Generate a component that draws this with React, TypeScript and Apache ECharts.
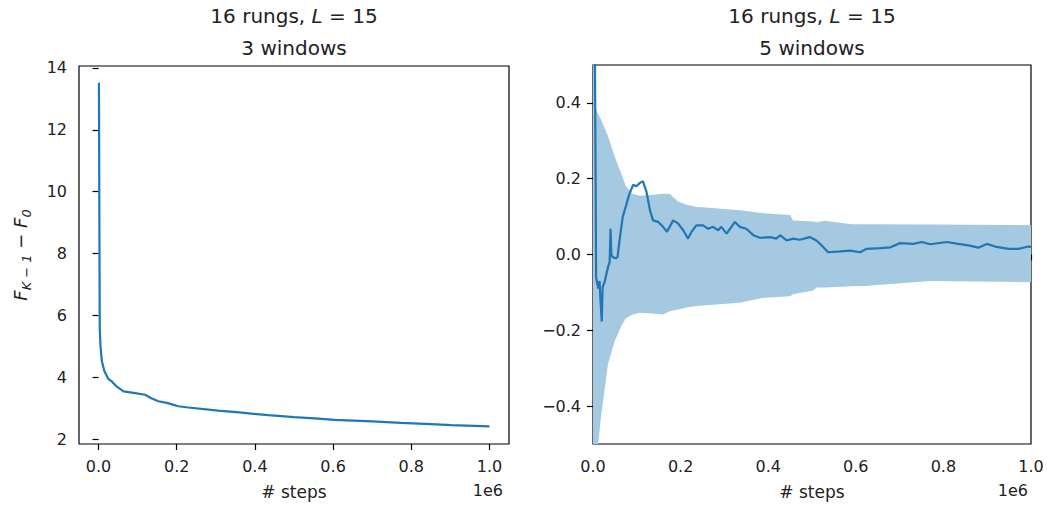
import React, { useEffect, useRef } from "react";
import * as echarts from "echarts";

// ---- data ----
const leftSteps = [1000, 3000, 5000, 8500, 15000, 25000, 34000, 45000, 64000, 90000, 119000, 135000, 153000, 175000, 204000, 230000, 306000, 360000, 434000, 500000, 562000, 604000, 700000, 774000, 850000, 902000, 1000000];
const leftValues = [13.52, 5.6, 5.0, 4.52, 4.2, 3.95, 3.87, 3.72, 3.55, 3.5, 3.44, 3.33, 3.23, 3.18, 3.07, 3.03, 2.93, 2.87, 2.78, 2.72, 2.67, 2.63, 2.58, 2.53, 2.49, 2.46, 2.42];

const rightSteps = [2000, 6000, 7000, 12000, 15000, 17000, 20000, 22000, 27000, 34000, 38000, 40000, 42000, 45000, 52000, 56000, 62000, 68000, 76000, 83000, 92000, 99000, 107000, 114000, 122000, 130000, 137000, 149000, 160000, 169000, 183000, 194000, 206000, 217000, 225000, 236000, 251000, 263000, 274000, 286000, 293000, 305000, 316000, 324000, 335000, 350000, 366000, 381000, 404000, 419000, 427000, 442000, 457000, 472000, 495000, 510000, 522000, 537000, 564000, 587000, 610000, 625000, 656000, 679000, 701000, 732000, 750000, 770000, 808000, 834000, 857000, 880000, 899000, 918000, 949000, 972000, 994000, 1000000];
const rightValues = [1.0, 0.2, -0.06, -0.09, -0.07, -0.12, -0.177, -0.087, -0.07, -0.034, -0.02, 0.068, 0.0, -0.007, -0.01, -0.007, 0.05, 0.1, 0.131, 0.16, 0.184, 0.18, 0.189, 0.193, 0.166, 0.117, 0.09, 0.086, 0.073, 0.06, 0.09, 0.082, 0.064, 0.042, 0.06, 0.077, 0.077, 0.068, 0.073, 0.064, 0.073, 0.055, 0.073, 0.086, 0.073, 0.068, 0.051, 0.044, 0.046, 0.042, 0.051, 0.037, 0.042, 0.039, 0.046, 0.037, 0.024, 0.006, 0.008, 0.01, 0.006, 0.015, 0.017, 0.019, 0.03, 0.028, 0.033, 0.027, 0.033, 0.028, 0.024, 0.018, 0.028, 0.021, 0.015, 0.015, 0.021, 0.02];

const bandSteps = [0, 5000, 7000, 12000, 18000, 34000, 49000, 64000, 75000, 90000, 107000, 133000, 160000, 175000, 194000, 214000, 236000, 335000, 389000, 450000, 457000, 503000, 510000, 530000, 590000, 620000, 770000, 1000000];
const bandUpper = [1.5, 0.5, 0.384, 0.37, 0.357, 0.313, 0.26, 0.215, 0.18, 0.16, 0.155, 0.157, 0.16, 0.16, 0.14, 0.131, 0.126, 0.117, 0.109, 0.104, 0.09, 0.087, 0.085, 0.089, 0.08, 0.08, 0.079, 0.078];
const bandLower = [-1.5, -0.6, -0.56, -0.5, -0.43, -0.29, -0.23, -0.19, -0.168, -0.158, -0.154, -0.156, -0.158, -0.15, -0.145, -0.14, -0.136, -0.127, -0.114, -0.11, -0.105, -0.095, -0.087, -0.087, -0.084, -0.083, -0.07, -0.073];

const xTicks = [0, 200000, 400000, 600000, 800000, 1000000];
const leftYTicks = [2, 4, 6, 8, 10, 12, 14];
const rightYTicks = [-0.4, -0.2, 0, 0.2, 0.4];

const FONT = "DejaVu Sans";
const C0 = "#1f77b4";
const BAND = "#a5c9e1";
const TXT = "#222";

const fmtMinus = (s: string) => s.replace("-", "\u2212");

export default function App() {
  const ref = useRef<HTMLDivElement>(null);
  useEffect(() => {
    if (!ref.current) return;
    const chart = echarts.init(ref.current, null, { renderer: "svg" });

    const axisCommon = {
      axisLine: { show: false },
      axisTick: { show: true, length: 6, inside: false, lineStyle: { color: "#000", width: 1.2 } },
      splitLine: { show: false },
    };
    const labelCommon = { color: TXT, fontSize: 16, fontFamily: FONT };

    const titleStyle = {
      fontSize: 20,
      fontWeight: "normal",
      color: TXT,
      fontFamily: FONT,
      lineHeight: 32,
      rich: {
        i: { fontStyle: "italic", fontSize: 20, fontFamily: FONT, color: TXT, lineHeight: 32 },
      },
    };

    const option: any = {
      animation: false,
      backgroundColor: "#fff",
      title: [
        { text: "16 rungs, {i|L} = 15\n3 windows", left: 294, top: 0, padding: 0, textAlign: "center", textStyle: titleStyle },
        { text: "16 rungs, {i|L} = 15\n5 windows", left: 812, top: 0, padding: 0, textAlign: "center", textStyle: titleStyle },
      ],
      grid: [
        { left: 79, top: 66, width: 430, height: 378, show: true, borderColor: "#000", borderWidth: 1.2, backgroundColor: "transparent" },
        { left: 593, top: 65, width: 438, height: 379, show: true, borderColor: "#000", borderWidth: 1.2, backgroundColor: "transparent" },
      ],
      xAxis: [
        {
          type: "value", gridIndex: 0, min: -50000, max: 1050000,
          ...axisCommon,
          axisTick: { ...axisCommon.axisTick, customValues: xTicks },
          axisLabel: { ...labelCommon, margin: 14, customValues: xTicks, formatter: (v: number) => (v / 1e6).toFixed(1) },
          name: "# steps", nameLocation: "middle", nameGap: 39,
          nameTextStyle: { ...labelCommon, fontSize: 17 },
        },
        {
          type: "value", gridIndex: 1, min: 0, max: 1000000,
          ...axisCommon,
          axisTick: { ...axisCommon.axisTick, customValues: xTicks },
          axisLabel: { ...labelCommon, margin: 14, customValues: xTicks, formatter: (v: number) => (v / 1e6).toFixed(1) },
          name: "# steps", nameLocation: "middle", nameGap: 39,
          nameTextStyle: { ...labelCommon, fontSize: 17 },
        },
      ],
      yAxis: [
        {
          type: "value", gridIndex: 0, min: 1.85, max: 14.06,
          ...axisCommon,
          axisTick: { ...axisCommon.axisTick, customValues: leftYTicks },
          axisLabel: { ...labelCommon, margin: 12, customValues: leftYTicks, formatter: (v: number) => String(Math.round(v)) },
          name: "{f|F}{s|K \u2212 1}{n| \u2212 }{f|F}{s|0}",
          nameLocation: "middle",
          nameRotate: 90,
          nameGap: 46,
          nameTextStyle: {
            ...labelCommon,
            rich: {
              f: { fontStyle: "italic", fontSize: 18, fontFamily: FONT, color: TXT, lineHeight: 25, verticalAlign: "middle" },
              s: { fontStyle: "italic", fontSize: 13, fontFamily: FONT, color: TXT, lineHeight: 13, verticalAlign: "bottom" },
              n: { fontSize: 18, fontFamily: FONT, color: TXT, lineHeight: 25, verticalAlign: "middle" },
            },
          },
        },
        {
          type: "value", gridIndex: 1, min: -0.5, max: 0.5,
          ...axisCommon,
          axisTick: { ...axisCommon.axisTick, customValues: rightYTicks },
          axisLabel: { ...labelCommon, margin: 12, customValues: rightYTicks, formatter: (v: number) => fmtMinus(v.toFixed(1)) },
        },
      ],
      graphic: [
        { type: "text", right: 1047 - 503, top: 482, style: { text: "1e6", fontSize: 16, fontFamily: FONT, fill: TXT } },
        { type: "text", right: 1047 - 1028, top: 482, style: { text: "1e6", fontSize: 16, fontFamily: FONT, fill: TXT } },
      ],
      series: [
        {
          type: "line", xAxisIndex: 0, yAxisIndex: 0,
          data: leftSteps.map((s, i) => [s, leftValues[i]]),
          showSymbol: false, symbol: "none",
          lineStyle: { color: C0, width: 2.2 },
          z: 3,
        },
        {
          type: "custom", xAxisIndex: 1, yAxisIndex: 1,
          data: bandSteps.map((s, i) => [s, bandLower[i], bandUpper[i]]),
          encode: { x: 0, y: [1, 2] },
          renderItem: (params: any, api: any) => {
            if (params.dataIndex !== 0) return null;
            const pts: number[][] = [];
            for (let i = 0; i < bandSteps.length; i++) pts.push(api.coord([bandSteps[i], bandUpper[i]]));
            for (let i = bandSteps.length - 1; i >= 0; i--) pts.push(api.coord([bandSteps[i], bandLower[i]]));
            const cs = params.coordSys;
            return {
              type: "polygon",
              shape: { points: pts },
              style: { fill: BAND, stroke: "none" },
              clipPath: { type: "rect", shape: { x: cs.x, y: cs.y, width: cs.width, height: cs.height } },
            };
          },
          z: 1,
        },
        {
          type: "line", xAxisIndex: 1, yAxisIndex: 1,
          data: rightSteps.map((s, i) => [s, rightValues[i]]),
          showSymbol: false, symbol: "none",
          lineStyle: { color: C0, width: 2.2 },
          z: 3,
        },
      ],
    };
    chart.setOption(option);
    return () => chart.dispose();
  }, []);
  return <div ref={ref} style={{ position: "fixed", left: 0, top: 0, width: 1047, height: 508 }} />;
}
